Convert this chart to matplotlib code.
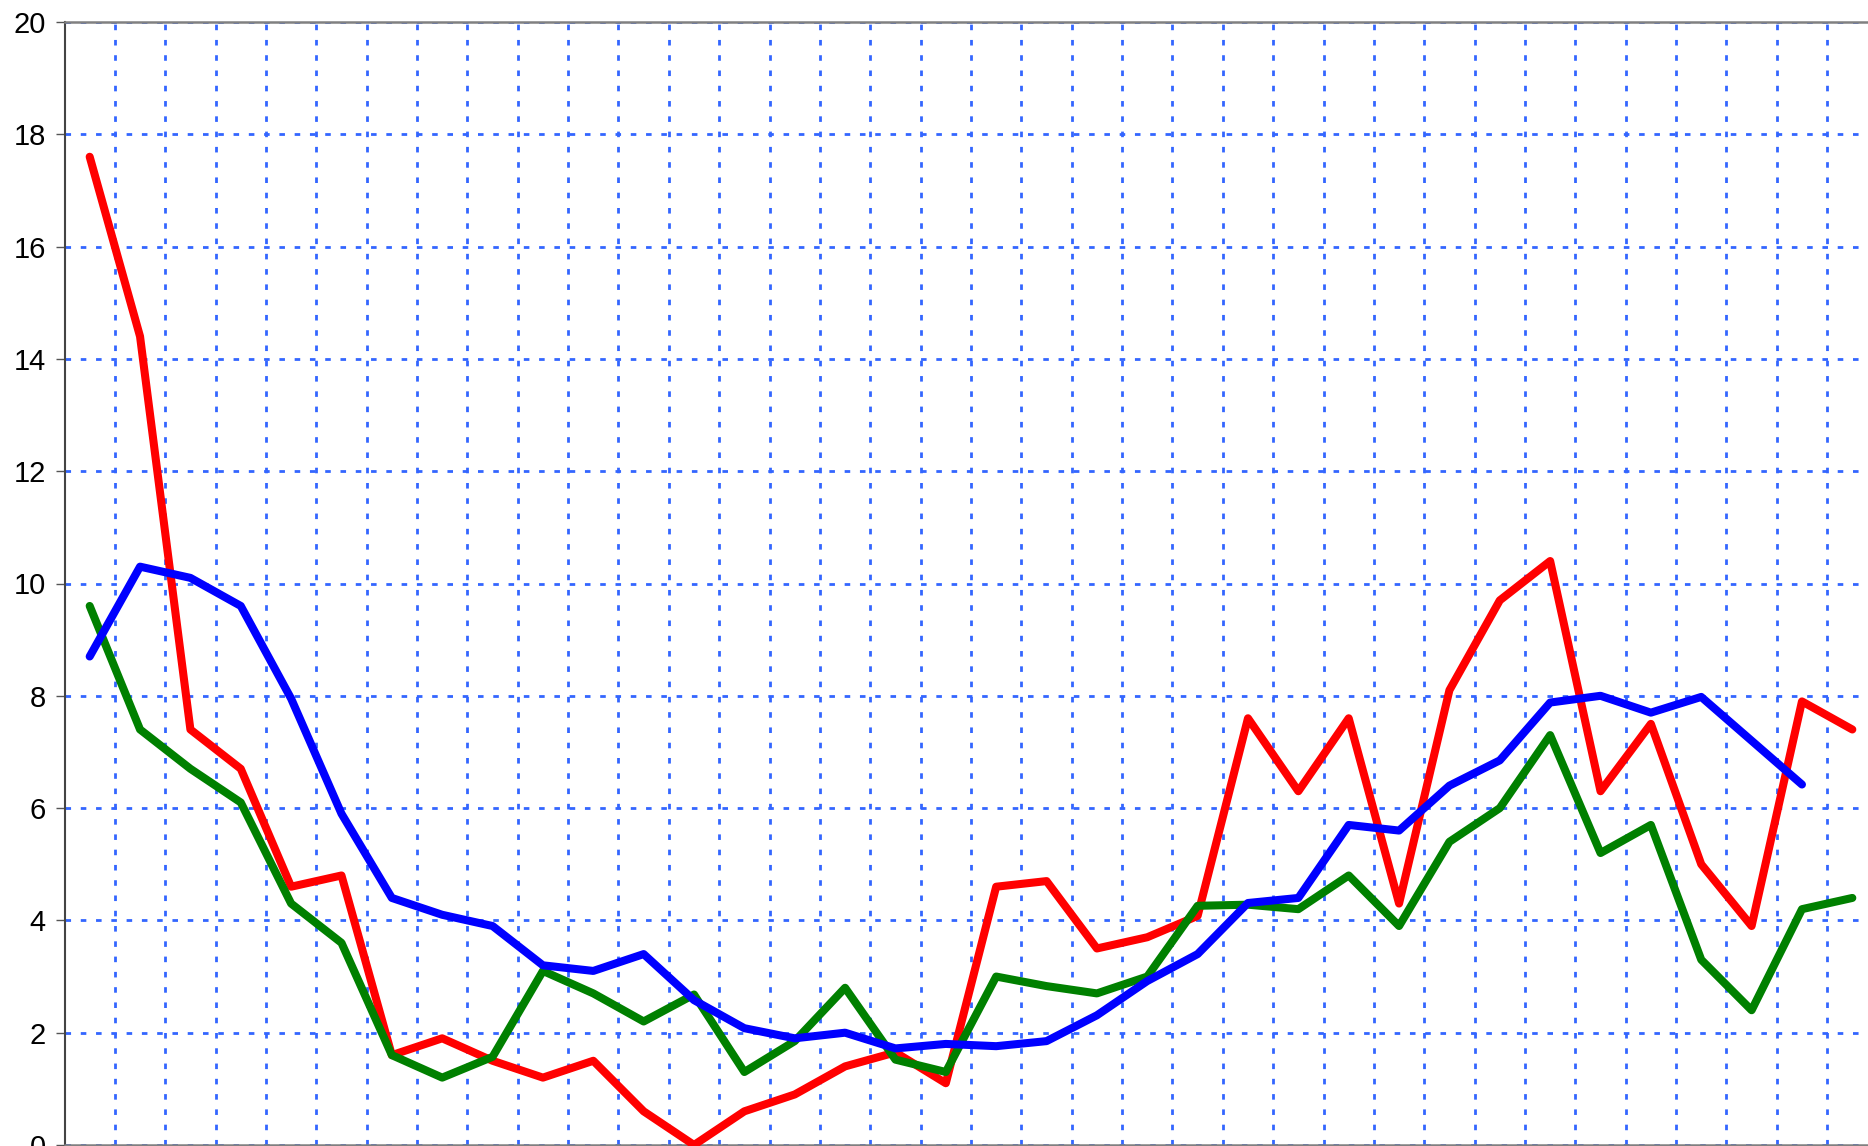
import numpy as np
import matplotlib
matplotlib.use("Agg")
import matplotlib.pyplot as plt

# values, one per category (36 categories, last one cut off)
red_vals = [17.6, 14.4, 7.4, 6.7, 4.6, 4.8, 1.6, 1.9, 1.5, 1.2,
            1.5, 0.6, 0.0, 0.6, 0.9, 1.4, 1.65, 1.1, 4.6, 4.7,
            3.5, 3.7, 4.08, 7.6, 6.3, 7.6, 4.3, 8.1, 9.7, 10.4,
            6.3, 7.5, 5.0, 3.9, 7.9, 7.4]
green_vals = [9.6, 7.4, 6.7, 6.1, 4.3, 3.6, 1.6, 1.2, 1.57, 3.1,
              2.7, 2.2, 2.68, 1.3, 1.85, 2.8, 1.52, 1.3, 3.0, 2.83,
              2.7, 3.0, 4.26, 4.28, 4.2, 4.8, 3.9, 5.4, 6.0, 7.3,
              5.2, 5.7, 3.3, 2.4, 4.2, 4.4]
blue_vals = [8.7, 10.3, 10.1, 9.6, 7.95, 5.9, 4.4, 4.1, 3.9, 3.2,
             3.1, 3.4, 2.58, 2.08, 1.9, 2.0, 1.72, 1.8, 1.76, 1.85,
             2.31, 2.92, 3.4, 4.31, 4.4, 5.7, 5.6, 6.4, 6.85, 7.88,
             8.0, 7.7, 7.98, 7.2, 6.42]

y_ticks = [0, 2, 4, 6, 8, 10, 12, 14, 16, 18, 20]

W, H = 1868, 1146
fig = plt.figure(figsize=(W / 100, H / 100), dpi=100)
# the reference is a crop: x axis runs off the right edge, y=0 sits on the bottom edge
left_px, right_px, top_px, bottom_px = 64.5, 1877.5, 22, 1145
ax = fig.add_axes([left_px / W, (H - bottom_px) / H,
                   (right_px - left_px) / W, (bottom_px - top_px) / H])

n = len(red_vals)
ax.set_xlim(-0.5, n - 0.5)
ax.set_ylim(0, 20)

grid_col = "#3366ff"
ax.set_xticks(np.arange(0.5, n - 0.5, 1))
ax.set_xticklabels([])
ax.tick_params(axis="x", length=0)
ax.set_yticks(y_ticks)
ax.set_yticklabels([str(v) for v in y_ticks], fontsize=21, family="Liberation Sans")
ax.tick_params(axis="y", length=6.5, width=1, color="#555555", pad=7)

ax.grid(True, color=grid_col, linewidth=2.0, linestyle=(0, (2.0, 3.5)))
ax.set_axisbelow(True)

ax.spines["left"].set_color("#444444")
ax.spines["left"].set_linewidth(1.5)
for side in ["top", "bottom"]:
    ax.spines[side].set_color("#808080")
    ax.spines[side].set_linewidth(1.8)
ax.spines["right"].set_visible(False)

lw = 5.8
x = np.arange(n)
ax.plot(x, red_vals, color="#ff0000", lw=lw, solid_capstyle="round", solid_joinstyle="round", clip_on=False, zorder=3)
ax.plot(x, green_vals, color="#008000", lw=lw, solid_capstyle="round", solid_joinstyle="round", clip_on=False, zorder=4)
ax.plot(x[:len(blue_vals)], blue_vals, color="#0000ff", lw=lw, solid_capstyle="round", solid_joinstyle="round", clip_on=False, zorder=5)

fig.savefig("out.png", dpi=100)
